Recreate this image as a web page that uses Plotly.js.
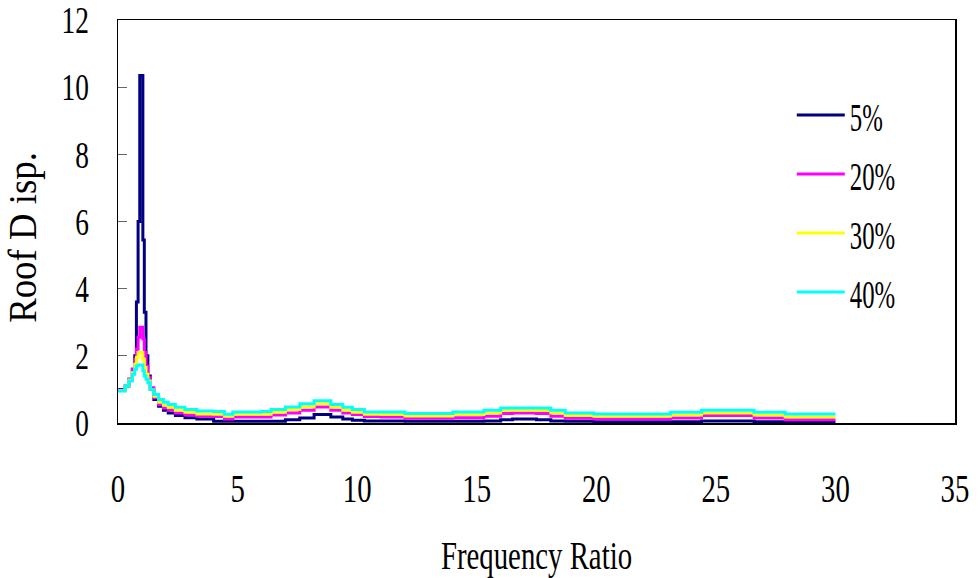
<!DOCTYPE html>
<html><head><meta charset="utf-8">
<script src="https://cdn.plot.ly/plotly-3.0.1.min.js"></script>
<style>html,body{margin:0;padding:0;background:#fff}</style>
</head><body>
<div id="chart" style="width:978px;height:578px"></div>
<script>
const freqRatio = [0, 0.3, 0.45, 0.6, 0.7, 0.77, 0.84, 0.91, 1.04, 1.1, 1.17, 1.25, 1.35, 1.5, 1.7, 1.9, 2.1, 2.4, 2.8, 3.3, 4.0, 4.45, 4.8, 6.0, 6.4, 7.0, 7.6, 8.2, 8.9, 9.4, 9.8, 10.3, 11.0, 12.0, 14.0, 15.3, 16.0, 16.5, 17.5, 18.1, 18.7, 19.9, 23.1, 24.4, 26.6, 27.9, 30];
const disp5 = [1.0, 1.1, 1.3, 1.6, 2.0, 3.6, 6.0, 10.35, 5.45, 3.3, 2.0, 1.4, 1.0, 0.7, 0.5, 0.38, 0.3, 0.22, 0.16, 0.12, 0.05, 0.05, 0.05, 0.05, 0.05, 0.1, 0.15, 0.25, 0.18, 0.12, 0.08, 0.06, 0.06, 0.05, 0.05, 0.06, 0.1, 0.12, 0.1, 0.06, 0.05, 0.04, 0.04, 0.06, 0.04, 0.03, 0.03];
const disp20 = [0.98, 1.1, 1.3, 1.6, 1.9, 2.2, 2.55, 2.85, 2.5, 2.1, 1.7, 1.35, 1.05, 0.75, 0.55, 0.45, 0.38, 0.3, 0.24, 0.2, 0.19, 0.12, 0.18, 0.18, 0.24, 0.3, 0.38, 0.48, 0.38, 0.3, 0.25, 0.19, 0.18, 0.14, 0.16, 0.2, 0.28, 0.3, 0.28, 0.2, 0.14, 0.12, 0.15, 0.22, 0.15, 0.1, 0.1];
const disp30 = [0.96, 1.1, 1.28, 1.5, 1.75, 1.95, 2.1, 2.1, 1.9, 1.65, 1.45, 1.25, 1.0, 0.8, 0.62, 0.53, 0.46, 0.38, 0.32, 0.27, 0.26, 0.2, 0.26, 0.26, 0.32, 0.4, 0.48, 0.57, 0.47, 0.38, 0.32, 0.26, 0.25, 0.21, 0.25, 0.3, 0.38, 0.38, 0.37, 0.3, 0.22, 0.2, 0.24, 0.3, 0.24, 0.18, 0.18];
const disp40 = [0.95, 1.1, 1.25, 1.45, 1.6, 1.7, 1.73, 1.73, 1.55, 1.4, 1.3, 1.2, 1.0, 0.85, 0.7, 0.62, 0.55, 0.47, 0.4, 0.36, 0.34, 0.26, 0.33, 0.34, 0.4, 0.48, 0.57, 0.66, 0.55, 0.47, 0.4, 0.33, 0.33, 0.28, 0.33, 0.38, 0.45, 0.45, 0.45, 0.38, 0.3, 0.27, 0.32, 0.38, 0.32, 0.27, 0.27];
const seriesNames = ['5%', '20%', '30%', '40%'];
const seriesColors = ['#000080', '#FF00FF', '#FFFF00', '#00FFFF'];
const seriesData = [disp5, disp20, disp30, disp40];

const FONT = 'Liberation Serif, Times New Roman, serif';
const traces = seriesData.map((d, i) => ({
  x: freqRatio, y: d, name: seriesNames[i], type: 'scatter', mode: 'lines',
  line: {color: seriesColors[i], width: 3, shape: 'hv'},
  legendgroup: 'g' + i
}));

const layout = {
  width: 978, height: 578,
  margin: {l: 118, r: 23, t: 20, b: 155},
  paper_bgcolor: '#fff', plot_bgcolor: '#fff',
  font: {family: FONT, color: '#000', size: 30},
  showlegend: true,
  legend: {x: 0.805, y: 0.845, xanchor: 'left', yanchor: 'top', bgcolor: 'rgba(0,0,0,0)',
           font: {family: FONT, size: 40}, traceorder: 'grouped', tracegroupgap: 4, itemwidth: 48},
  xaxis: {range: [0, 35], dtick: 5, tick0: 0, showgrid: false, zeroline: false,
          showline: true, mirror: true, linecolor: '#000', linewidth: 1.5,
          ticks: '', ticklabelstandoff: 30, ticklabeloverflow: 'allow', tickfont: {family: FONT, size: 40},
          title: {text: 'Frequency Ratio', font: {family: FONT, size: 40}, standoff: 32}},
  yaxis: {range: [0, 12], dtick: 2, tick0: 0, showgrid: false, zeroline: false,
          showline: true, mirror: true, linecolor: '#000', linewidth: 1.5,
          ticks: 'inside', ticklen: 9, tickcolor: '#666', ticklabelstandoff: 20, ticklabeloverflow: 'allow',
          tickfont: {family: FONT, size: 38},
          title: {text: 'Roof D isp.', font: {family: FONT, size: 40}, standoff: 9}}
};

function condense(sel, s, dx) {
  document.querySelectorAll(sel).forEach(t => {
    const x = parseFloat(t.getAttribute('x')) || 0;
    const y = parseFloat(t.getAttribute('y')) || 0;
    const tr = t.getAttribute('transform') || '';
    t.setAttribute('transform', tr + ` translate(${x + (dx || 0)},${y}) scale(${s},1) translate(${-x},${-y})`);
  });
}
Plotly.newPlot('chart', traces, layout, {staticPlot: true}).then(() => {
  condense('#chart .xtick text', 0.72);
  condense('#chart .ytick text', 0.72);
  condense('#chart .legendtext', 0.62);
  condense('#chart .g-xtitle text', 0.72);
  condense('#chart .g-ytitle text', 0.92, -16);
});
</script>
</body></html>
